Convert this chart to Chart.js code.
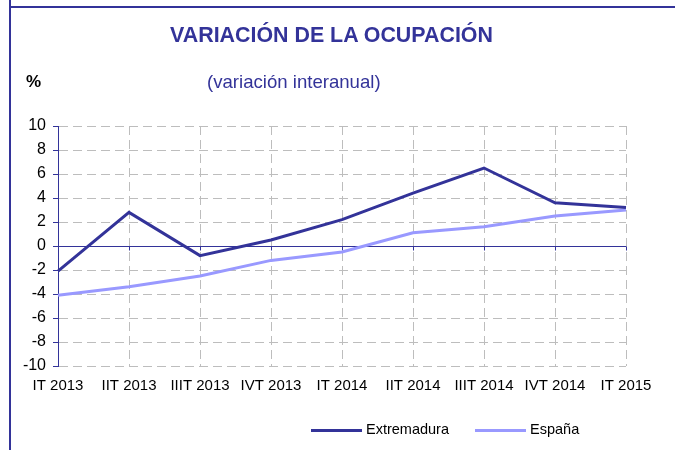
<!DOCTYPE html>
<html>
<head>
<meta charset="utf-8">
<script src="https://cdn.jsdelivr.net/npm/chart.js@4/dist/chart.umd.min.js"></script>
<style>
  html, body { margin:0; padding:0; background:#fff; }
  #wrap { position:relative; width:675px; height:450px; overflow:hidden; font-family:"Liberation Sans", Arial, sans-serif; }
  #frameTop { position:absolute; left:9px; top:6px; width:666px; height:2px; background:#333399; }
  #frameLeft { position:absolute; left:9px; top:0; width:2px; height:450px; background:#333399; }
  #title { position:absolute; left:0; width:663px; top:23px; text-align:center; font-weight:bold; font-size:21.4px; color:#333399; }
  #unit { position:absolute; left:26px; top:72px; font-weight:bold; font-size:17px; color:#000; }
  #subtitle { position:absolute; left:207px; top:71px; font-size:18.6px; color:#333399; }
  #legend { position:absolute; left:311px; top:421px; font-size:14.5px; color:#000; white-space:nowrap; }
  #legend .item { display:inline-block; margin-right:26px; }
  #legend .swatch { display:inline-block; width:51px; height:3px; vertical-align:middle; margin-right:4px; }
  canvas { position:absolute; left:0; top:0; }
</style>
</head>
<body>
<div id="wrap">
  <canvas id="chart" width="675" height="450"></canvas>
  <div id="frameTop"></div>
  <div id="frameLeft"></div>
  <div id="title">VARIACIÓN DE LA OCUPACIÓN</div>
  <div id="unit">%</div>
  <div id="subtitle">(variación interanual)</div>
  <div id="legend"></div>
</div>
<script>
// quarters on the x axis
const quarters = ['IT 2013','IIT 2013','IIIT 2013','IVT 2013','IT 2014','IIT 2014','IIIT 2014','IVT 2014','IT 2015'];
// year-on-year change in employment, %
const extremadura = [-2.1, 2.8, -0.8, 0.5, 2.2, 4.4, 6.5, 3.6, 3.2];
const espana      = [-4.1, -3.4, -2.5, -1.2, -0.5, 1.1, 1.6, 2.5, 3.0];
const seriesNames  = ['Extremadura', 'España'];
const seriesColors = ['#333399', '#9999FF'];

const FONT = '"Liberation Sans", Arial, sans-serif';

// solid zero line with small tick marks hanging under it
const zeroLine = {
  id: 'zeroLine',
  beforeDatasetsDraw(chart){
    const {ctx, chartArea, scales:{x, y}} = chart;
    const y0 = Math.round(y.getPixelForValue(0)) + 0.5;
    ctx.save();
    ctx.strokeStyle = '#333399'; ctx.lineWidth = 1;
    ctx.beginPath();
    ctx.moveTo(chartArea.left, y0); ctx.lineTo(chartArea.right, y0);
    quarters.forEach((q, i) => {
      const px = Math.round(x.getPixelForValue(i)) + 0.5;
      ctx.moveTo(px, y0); ctx.lineTo(px, y0 + 4);
    });
    ctx.stroke();
    ctx.restore();
  }
};

const chart = new Chart(document.getElementById('chart'), {
  type: 'line',
  data: {
    labels: quarters,
    datasets: [extremadura, espana].map((d, i) => ({
      label: seriesNames[i], data: d,
      borderColor: seriesColors[i], backgroundColor: seriesColors[i],
      borderWidth: 3, pointRadius: 0, tension: 0, fill: false
    }))
  },
  options: {
    responsive: false, animation: false,
    layout: { padding: { left: 10, right: 49, top: 126, bottom: 54 } },
    plugins: { legend: { display: false }, tooltip: { enabled: false } },
    scales: {
      x: {
        offset: false,
        grid: { color: '#bdbdbd', drawTicks: false },
        border: { display: false, dash: [9, 5] },
        ticks: { color: '#000', font: { family: FONT, size: 15 }, padding: 11, maxRotation: 0, autoSkip: false },
        afterFit(s){ s.height = 30; }
      },
      y: {
        min: -10, max: 10,
        grid: { color: '#bdbdbd', tickColor: '#333399', tickLength: 5, tickBorderDash: [] },
        border: { display: true, color: '#333399', width: 1, dash: [9, 5] },
        ticks: { stepSize: 2, color: '#000', font: { family: FONT, size: 16 }, padding: 7 },
        afterFit(s){ s.width = 48; }
      }
    }
  },
  plugins: [zeroLine]
});

// legend built from the datasets
document.getElementById('legend').innerHTML = chart.data.datasets.map(ds =>
  `<span class="item"><span class="swatch" style="background:${ds.borderColor}"></span>${ds.label}</span>`
).join('');
</script>
</body>
</html>
